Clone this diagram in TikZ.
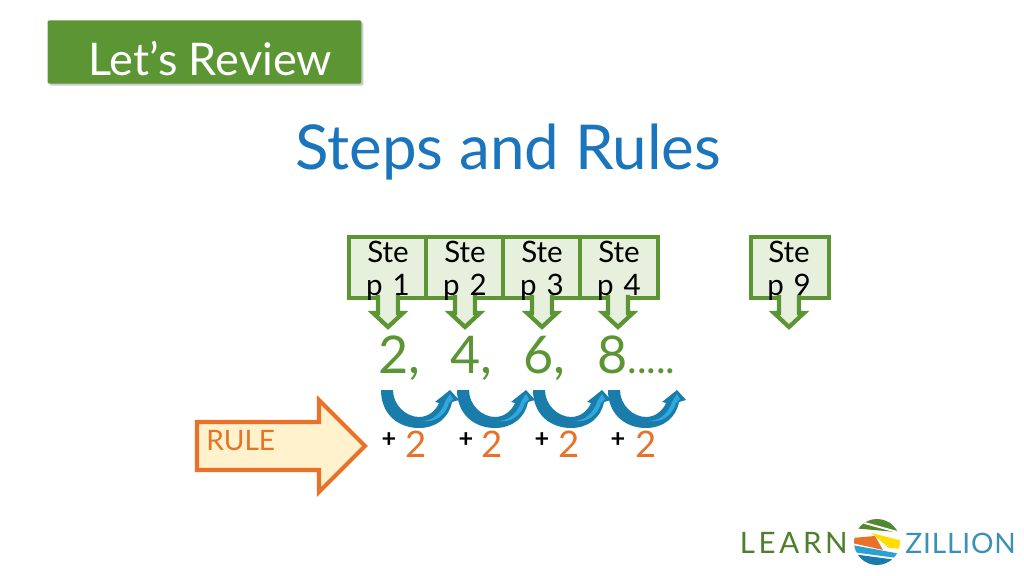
\documentclass[tikz,border=0pt]{standalone}
\usepackage{fontspec}
\setmainfont{Lato}
\usetikzlibrary{positioning,arrows.meta,shadows}
\newcommand{\fsz}[1]{\fontsize{#1}{#1}\selectfont}
\definecolor{greenc}{HTML}{5B9534}
\definecolor{palegreen}{HTML}{E6F0DC}
\definecolor{bluec}{HTML}{1B75BC}
\definecolor{curlc}{HTML}{1A7CAB}
\definecolor{curlhi}{HTML}{2FA9DC}
\definecolor{orangec}{HTML}{E8722A}
\definecolor{paleorange}{HTML}{FFF2CC}
\begin{document}
\begin{tikzpicture}[
  x=0.025cm, y=-0.025cm,
  every node/.style={inner sep=0pt},
  stepbox/.style={draw=greenc, fill=palegreen, line width=3pt, minimum width=55pt, minimum height=43pt},
  steplabl/.style={align=center, font=\fontsize{21}{23.5}\selectfont, text=black},
  numlabl/.style={font=\fsz{37}, text=greenc},
  pluslabl/.style={font=\fsz{18}\bfseries, text=black},
  twolabl/.style={font=\fsz{26}, text=orangec},
  stepdown/.pic={
    \draw[draw=greenc, fill=palegreen, line width=3pt, line join=miter]
      (-10,-3) -- (-10,15) -- (-15,15) -- (0,29) -- (15,15) -- (10,15) -- (10,-3);
  },
  curlarrow/.pic={
    \fill[curlc] (0,0) -- (12,0) .. controls (12,15) and (25,27) .. (38,27)
      .. controls (48,27) and (55,20) .. (58,13) -- (54,12) -- (69,0) -- (78,10) -- (71,12)
      .. controls (68,28) and (55,38) .. (38,38) .. controls (18,38) and (0,25) .. (0,0) -- cycle;
    \fill[curlhi] (40,31) .. controls (52,31) and (60,24) .. (65,10) -- (69,4) -- (72,9) -- (68,13)
      .. controls (64,26) and (54,33) .. (40,31) -- cycle;
  }
]
\useasboundingbox (0,0) rectangle (1024,576);

% Heading
\node[fill=greenc, rounded corners=1pt, minimum width=223pt, minimum height=45pt, drop shadow={shadow xshift=1.5pt, shadow yshift=-1.5pt, opacity=0.4}] (reviewbar) at (204.5,52) {};
\node[font=\fsz{32}, text=white] (reviewtext) at (210,58) {Let's Review};
\node[font=\fsz{44}, text=bluec] (title) at (508,152) {Steps and Rules};

% Step boxes
\node[stepbox] (box1) at (387.5,267.5) {};
\node[stepbox] (box2) at (464.5,267.5) {};
\node[stepbox] (box3) at (541.5,267.5) {};
\node[stepbox] (box4) at (619,267.5) {};
\node[stepbox] (box9) at (790,267.5) {};

% Arrows below the boxes
\pic at (388,298) {stepdown};
\pic at (465,298) {stepdown};
\pic at (542,298) {stepdown};
\pic at (618,298) {stepdown};
\pic at (789,298) {stepdown};

\node[steplabl] (step1) at (388,271) {Ste\\p\hspace{7pt}1};
\node[steplabl] (step2) at (465,271) {Ste\\p\hspace{7pt}2};
\node[steplabl] (step3) at (542,271) {Ste\\p\hspace{7pt}3};
\node[steplabl] (step4) at (619,271) {Ste\\p\hspace{7pt}4};
\node[steplabl] (step9) at (789,271) {Ste\\p\hspace{7pt}9};

% Numbers
\node[numlabl, anchor=base] (num2) at (399,373) {2,};
\node[numlabl, anchor=base] (num4) at (471,373) {4,};
\node[numlabl, anchor=base] (num6) at (544,373) {6,};
\node[numlabl, anchor=base west] (num8) at (597,373) {8{\fsz{29}.....}};

% Jumps
\pic at (381,390) {curlarrow};
\pic at (457,390) {curlarrow};
\pic at (533,390) {curlarrow};
\pic at (608,390) {curlarrow};

% Rule
\draw[draw=orangec, fill=paleorange, line width=3pt, line join=miter] (197,422) -- (319,422) -- (319,400) -- (365,446) -- (319,492) -- (319,470) -- (197,470) -- cycle;
\node[font=\fsz{20}, text=orangec, anchor=west] (ruletext) at (206,441) {RULE};

\node[pluslabl] (plus1) at (389,440) {+};
\node[twolabl] (two1) at (416,444) {2};
\node[pluslabl] (plus2) at (466,440) {+};
\node[twolabl] (two2) at (492,444) {2};
\node[pluslabl] (plus3) at (542,440) {+};
\node[twolabl] (two3) at (569,444) {2};
\node[pluslabl] (plus4) at (618,440) {+};
\node[twolabl] (two4) at (646,444) {2};

% Logo
\node[font=\fsz{21}, text=greenc!85!black, anchor=east] (learn) at (848,543) {L\hspace{2.6pt}E\hspace{2.6pt}A\hspace{2.6pt}R\hspace{2.6pt}N};
\node[font=\fsz{20}, text=curlc!85!white, anchor=west] (zillion) at (905,543) {Z\hspace{0.6pt}I\hspace{0.6pt}L\hspace{0.6pt}L\hspace{0.6pt}I\hspace{0.6pt}O\hspace{0.6pt}N};
\begin{scope}[shift={(877,542)}]
  \clip (0,0) circle (23);
  \fill[greenc!90!black] (-15,-24) -- (30,-24) -- (30,-9) -- (-25,-14) -- cycle;
  \fill[white] (-16,-21) -- (24,-10) -- (24,-8) -- (-16,-19) -- cycle;
  \fill[orangec] (-25,-4) -- (-2,-6) -- (6,8) -- (-25,1) -- cycle;
  \fill[yellow!80!orange] (-6,-9) -- (26,-1) -- (26,7) -- (12,6) -- cycle;
  \fill[curlhi!80!curlc] (-25,3) -- (24,12) -- (20,16) -- (-25,10) -- cycle;
  \fill[curlc] (-25,12) -- (20,18) -- (10,30) -- (-20,30) -- cycle;
\end{scope}
\end{tikzpicture}
\end{document}
